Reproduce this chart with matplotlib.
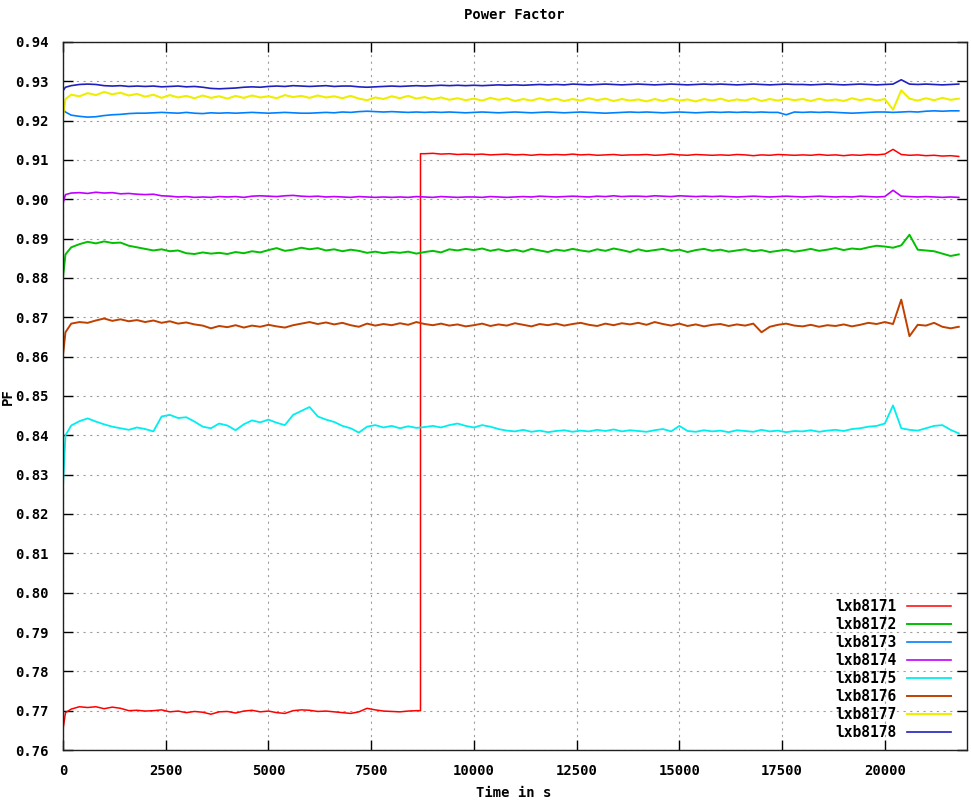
import numpy as np
import matplotlib
matplotlib.use("Agg")
import matplotlib.pyplot as plt

# sample times in seconds: 0, 60, then every 200 s up to 21800
t = np.concatenate(([0, 60], np.arange(200, 21801, 200)))
step_t = 8700   # lxb8171 jumps here

pf_8171 = [0.7652, 0.7695, 0.7704, 0.7710, 0.7708, 0.7710, 0.7705, 0.7709, 0.7706, 0.7700, 0.7701,
           0.7699, 0.7700, 0.7702, 0.7697, 0.7699, 0.7695, 0.7698, 0.7696, 0.7691, 0.7697,
           0.7698, 0.7694, 0.7699, 0.7701, 0.7697, 0.7699, 0.7695, 0.7693, 0.7700, 0.7702,
           0.7701, 0.7698, 0.7699, 0.7697, 0.7695, 0.7693, 0.7697, 0.7706, 0.7702, 0.7699,
           0.7698, 0.7697, 0.7699, 0.7700, 0.9116, 0.9117, 0.9115, 0.9116, 0.9114, 0.9115,
           0.9114, 0.9115, 0.9113, 0.9114, 0.9115, 0.9113, 0.9114, 0.9112, 0.9114, 0.9113,
           0.9114, 0.9113, 0.9115, 0.9113, 0.9114, 0.9112, 0.9113, 0.9114, 0.9112, 0.9113,
           0.9113, 0.9114, 0.9112, 0.9113, 0.9115, 0.9113, 0.9112, 0.9114, 0.9113, 0.9112,
           0.9113, 0.9112, 0.9114, 0.9113, 0.9111, 0.9113, 0.9112, 0.9114, 0.9113, 0.9112,
           0.9113, 0.9112, 0.9114, 0.9112, 0.9113, 0.9111, 0.9113, 0.9112, 0.9114, 0.9113,
           0.9115, 0.9127, 0.9114, 0.9112, 0.9113, 0.9111, 0.9112, 0.9110, 0.9111, 0.9109]

pf_8172 = [0.8802, 0.8860, 0.8878, 0.8886, 0.8892, 0.8888, 0.8893, 0.8889, 0.8890, 0.8882, 0.8878,
           0.8874, 0.8870, 0.8873, 0.8868, 0.8870, 0.8863, 0.8861, 0.8865, 0.8862, 0.8864,
           0.8861, 0.8866, 0.8863, 0.8868, 0.8865, 0.8871, 0.8876, 0.8869, 0.8872, 0.8877,
           0.8873, 0.8876, 0.8870, 0.8873, 0.8868, 0.8872, 0.8869, 0.8864, 0.8867, 0.8863,
           0.8866, 0.8864, 0.8867, 0.8862, 0.8866, 0.8869, 0.8865, 0.8873, 0.8870, 0.8874,
           0.8871, 0.8875, 0.8869, 0.8873, 0.8868, 0.8872, 0.8867, 0.8874, 0.8870, 0.8866,
           0.8872, 0.8869, 0.8874, 0.8870, 0.8867, 0.8873, 0.8869, 0.8875, 0.8871, 0.8866,
           0.8873, 0.8868, 0.8871, 0.8874, 0.8869, 0.8872, 0.8866, 0.8871, 0.8874, 0.8869,
           0.8872, 0.8867, 0.8870, 0.8873, 0.8868, 0.8871, 0.8866, 0.8869, 0.8872, 0.8867,
           0.8870, 0.8874, 0.8869, 0.8872, 0.8876, 0.8871, 0.8875, 0.8873, 0.8878, 0.8882,
           0.8880, 0.8877, 0.8883, 0.8910, 0.8872, 0.8870, 0.8868, 0.8862, 0.8856, 0.8860]

pf_8173 = [0.9228, 0.9222, 0.9214, 0.9211, 0.9209, 0.9210, 0.9213, 0.9215, 0.9216, 0.9218, 0.9219,
           0.9219, 0.9220, 0.9221, 0.9220, 0.9219, 0.9221, 0.9219, 0.9218, 0.9220, 0.9219,
           0.9220, 0.9219, 0.9220, 0.9221, 0.9220, 0.9219, 0.9220, 0.9221, 0.9220, 0.9219,
           0.9219, 0.9220, 0.9221, 0.9220, 0.9222, 0.9221, 0.9223, 0.9224, 0.9223, 0.9222,
           0.9223, 0.9222, 0.9221, 0.9222, 0.9221, 0.9222, 0.9221, 0.9222, 0.9221, 0.9220,
           0.9221, 0.9222, 0.9221, 0.9220, 0.9221, 0.9222, 0.9221, 0.9220, 0.9221, 0.9222,
           0.9221, 0.9220, 0.9221, 0.9222, 0.9221, 0.9220, 0.9219, 0.9220, 0.9221, 0.9222,
           0.9221, 0.9222, 0.9221, 0.9220, 0.9221, 0.9222, 0.9221, 0.9220, 0.9221, 0.9222,
           0.9221, 0.9222, 0.9221, 0.9222, 0.9221, 0.9222, 0.9221, 0.9221, 0.9215, 0.9222,
           0.9221, 0.9222, 0.9221, 0.9222, 0.9221, 0.9220, 0.9219, 0.9220, 0.9221, 0.9222,
           0.9222, 0.9221, 0.9222, 0.9223, 0.9222, 0.9224, 0.9225, 0.9224, 0.9225, 0.9225]

pf_8174 = [0.8990, 0.9012, 0.9016, 0.9017, 0.9015, 0.9018, 0.9016, 0.9017, 0.9014, 0.9015, 0.9013,
           0.9012, 0.9013, 0.9009, 0.9008, 0.9006, 0.9007, 0.9005, 0.9006, 0.9005, 0.9007,
           0.9006, 0.9007, 0.9005, 0.9008, 0.9009, 0.9008, 0.9007, 0.9009, 0.9010, 0.9008,
           0.9007, 0.9008, 0.9006, 0.9007, 0.9006, 0.9005, 0.9007, 0.9006, 0.9005, 0.9006,
           0.9005, 0.9006, 0.9005, 0.9007, 0.9006, 0.9005, 0.9007, 0.9006, 0.9005, 0.9006,
           0.9006, 0.9005, 0.9007, 0.9006, 0.9005, 0.9006, 0.9007, 0.9006, 0.9008, 0.9007,
           0.9006, 0.9007, 0.9008, 0.9007, 0.9006, 0.9008, 0.9007, 0.9009, 0.9007, 0.9008,
           0.9008, 0.9007, 0.9009, 0.9008, 0.9007, 0.9009, 0.9008, 0.9007, 0.9008, 0.9007,
           0.9008, 0.9007, 0.9006, 0.9007, 0.9008, 0.9007, 0.9006, 0.9007, 0.9008, 0.9007,
           0.9006, 0.9007, 0.9008, 0.9007, 0.9006, 0.9007, 0.9006, 0.9008, 0.9007, 0.9006,
           0.9007, 0.9023, 0.9008, 0.9007, 0.9006, 0.9007, 0.9006, 0.9005, 0.9006, 0.9005]

pf_8175 = [0.8270, 0.8400, 0.8425, 0.8436, 0.8443, 0.8435, 0.8428, 0.8422, 0.8418, 0.8414, 0.8420,
           0.8416, 0.8410, 0.8448, 0.8452, 0.8444, 0.8446, 0.8435, 0.8422, 0.8418, 0.8430,
           0.8425, 0.8413, 0.8428, 0.8438, 0.8433, 0.8440, 0.8432, 0.8426, 0.8452, 0.8462,
           0.8472, 0.8448, 0.8440, 0.8434, 0.8424, 0.8418, 0.8407, 0.8422, 0.8426, 0.8420,
           0.8424, 0.8418, 0.8423, 0.8419, 0.8421, 0.8424, 0.8420, 0.8426, 0.8430, 0.8424,
           0.8420, 0.8426, 0.8422, 0.8416, 0.8412, 0.8410, 0.8414, 0.8409, 0.8412, 0.8408,
           0.8411, 0.8413, 0.8409, 0.8412, 0.8410, 0.8414, 0.8411, 0.8415, 0.8410, 0.8413,
           0.8411, 0.8409, 0.8413, 0.8416, 0.8410, 0.8424, 0.8411, 0.8409, 0.8413, 0.8410,
           0.8412, 0.8408, 0.8413, 0.8411, 0.8409, 0.8414, 0.8410, 0.8412, 0.8408, 0.8411,
           0.8410, 0.8413, 0.8409, 0.8412, 0.8414, 0.8411, 0.8416, 0.8418, 0.8422, 0.8424,
           0.8430, 0.8476, 0.8418, 0.8414, 0.8412, 0.8418, 0.8424, 0.8426, 0.8414, 0.8405]

pf_8176 = [0.8604, 0.8662, 0.8684, 0.8688, 0.8686, 0.8692, 0.8697, 0.8691, 0.8695, 0.8690, 0.8693,
           0.8688, 0.8692, 0.8686, 0.8690, 0.8684, 0.8687, 0.8682, 0.8679, 0.8672, 0.8678,
           0.8675, 0.8680, 0.8674, 0.8679, 0.8676, 0.8681, 0.8677, 0.8674, 0.8680, 0.8684,
           0.8688, 0.8683, 0.8687, 0.8682, 0.8686, 0.8680, 0.8676, 0.8684, 0.8679, 0.8683,
           0.8680, 0.8685, 0.8681, 0.8688, 0.8683, 0.8680, 0.8684, 0.8679, 0.8682, 0.8677,
           0.8680, 0.8684, 0.8678, 0.8682, 0.8679, 0.8685, 0.8681, 0.8677, 0.8683, 0.8680,
           0.8684, 0.8679, 0.8683, 0.8686, 0.8681, 0.8678, 0.8684, 0.8680, 0.8685, 0.8682,
           0.8686, 0.8681, 0.8688, 0.8683, 0.8679, 0.8684, 0.8678, 0.8682, 0.8677, 0.8681,
           0.8683, 0.8678, 0.8682, 0.8679, 0.8684, 0.8662, 0.8676, 0.8681, 0.8684, 0.8679,
           0.8677, 0.8681, 0.8676, 0.8680, 0.8678, 0.8682, 0.8677, 0.8681, 0.8686, 0.8683,
           0.8688, 0.8683, 0.8745, 0.8652, 0.8681, 0.8679, 0.8686, 0.8676, 0.8672, 0.8676]

pf_8177 = [0.9210, 0.9255, 0.9266, 0.9262, 0.9270, 0.9265, 0.9273, 0.9267, 0.9271, 0.9264, 0.9268,
           0.9261, 0.9266, 0.9258, 0.9265, 0.9259, 0.9263, 0.9257, 0.9264, 0.9258, 0.9262,
           0.9256, 0.9263, 0.9258, 0.9264, 0.9259, 0.9262, 0.9257, 0.9265, 0.9260, 0.9263,
           0.9258, 0.9264, 0.9259, 0.9262, 0.9257, 0.9263, 0.9256, 0.9252, 0.9259, 0.9255,
           0.9262, 0.9257, 0.9263, 0.9256, 0.9260, 0.9254, 0.9259, 0.9253, 0.9257, 0.9252,
           0.9256, 0.9251, 0.9258, 0.9253, 0.9257, 0.9250, 0.9255, 0.9251, 0.9257, 0.9252,
           0.9256, 0.9250, 0.9255, 0.9251, 0.9257, 0.9252, 0.9256, 0.9250, 0.9255, 0.9251,
           0.9254, 0.9249, 0.9255, 0.9250, 0.9256, 0.9251, 0.9254, 0.9249, 0.9255, 0.9251,
           0.9256, 0.9250, 0.9254, 0.9251, 0.9257, 0.9250, 0.9255, 0.9251, 0.9256, 0.9252,
           0.9255, 0.9250, 0.9256, 0.9251, 0.9254, 0.9250, 0.9257, 0.9252, 0.9256, 0.9251,
           0.9255, 0.9228, 0.9277, 0.9256, 0.9251, 0.9257, 0.9252, 0.9258, 0.9253, 0.9256]

pf_8178 = [0.9276, 0.9285, 0.9289, 0.9292, 0.9293, 0.9292, 0.9289, 0.9288, 0.9289, 0.9287, 0.9288,
           0.9287, 0.9288, 0.9286, 0.9287, 0.9288, 0.9286, 0.9287, 0.9285, 0.9282, 0.9281,
           0.9282, 0.9283, 0.9285, 0.9286, 0.9285, 0.9287, 0.9288, 0.9287, 0.9289, 0.9288,
           0.9287, 0.9288, 0.9289, 0.9287, 0.9288, 0.9288, 0.9286, 0.9285, 0.9286, 0.9287,
           0.9288, 0.9287, 0.9288, 0.9289, 0.9288, 0.9289, 0.9290, 0.9289, 0.9290, 0.9289,
           0.9290, 0.9289, 0.9290, 0.9291, 0.9290, 0.9291, 0.9290, 0.9291, 0.9292, 0.9291,
           0.9292, 0.9291, 0.9293, 0.9292, 0.9291, 0.9292, 0.9293, 0.9292, 0.9291, 0.9292,
           0.9293, 0.9292, 0.9291, 0.9292, 0.9293, 0.9292, 0.9291, 0.9292, 0.9293, 0.9292,
           0.9293, 0.9292, 0.9291, 0.9292, 0.9293, 0.9292, 0.9291, 0.9292, 0.9293, 0.9292,
           0.9292, 0.9291, 0.9292, 0.9293, 0.9292, 0.9291, 0.9292, 0.9293, 0.9292, 0.9291,
           0.9292, 0.9293, 0.9304, 0.9293, 0.9292, 0.9293, 0.9292, 0.9291, 0.9292, 0.9293]

names = ['lxb8171', 'lxb8172', 'lxb8173', 'lxb8174',
         'lxb8175', 'lxb8176', 'lxb8177', 'lxb8178']
series = [pf_8171, pf_8172, pf_8173, pf_8174, pf_8175, pf_8176, pf_8177, pf_8178]
colors = ['#ff0000', '#00c000', '#0080ff', '#c000ff',
          '#00eeee', '#c04000', '#eeee00', '#2020c0']
widths = [1.1, 1.4, 1.2, 1.2, 1.3, 1.4, 1.5, 1.2]

font = {'family': 'DejaVu Sans Mono', 'weight': 'bold', 'size': 10}

fig = plt.figure(figsize=(9.71, 8.01), dpi=100)
ax = fig.add_axes([63/971, 1 - 750/801, (967 - 63)/971, (750 - 42)/801])

for name, vals, c, w in zip(names, series, colors, widths):
    x = np.asarray(t, dtype=float)
    y = np.asarray(vals)
    if name == 'lxb8171':
        # vertical jump between the two levels
        k = np.searchsorted(x, step_t)
        x = np.concatenate((x[:k], [step_t, step_t], x[k:]))
        y = np.concatenate((y[:k], [y[k - 1], y[k]], y[k:]))
    ax.plot(x, y, color=c, lw=w, label=name)

ax.set_xlim(0, 22000)
ax.set_ylim(0.76, 0.94)
ax.set_xticks(np.arange(0, 20001, 2500))
ax.set_yticks(np.arange(0.76, 0.9401, 0.01))
ax.set_xticklabels([str(v) for v in range(0, 20001, 2500)], fontdict=font)
ax.set_yticklabels(['%.2f' % v for v in np.arange(0.76, 0.9401, 0.01)], fontdict=font)
ax.tick_params(direction='in', length=7, width=1, top=True, right=True)
ax.tick_params(axis='y', pad=10)
ax.tick_params(axis='x', pad=10)
ax.grid(True, color='#a0a0a0', lw=0.8, linestyle=(0, (2, 4)))
for s in ax.spines.values():
    s.set_linewidth(1.0)
    s.set_color('#202020')

fig.text(514/971, 1 - 15/801, 'Power Factor', ha='center', va='center', fontdict=font)
fig.text(514/971, 1 - 786/801, 'Time in s', ha='center', va='top', fontdict=font)
fig.text(8/971, 1 - 397/801, 'PF', ha='center', va='center', rotation=90, fontdict=font)

leg = ax.legend(loc='lower right', bbox_to_anchor=(0.9935, 0.0), frameon=False,
                markerfirst=False, handlelength=3.0, labelspacing=0.2,
                borderaxespad=0.3, handletextpad=0.7,
                prop={'family': 'DejaVu Sans Mono', 'weight': 'bold', 'size': 10.5})

fig.savefig('out.png', dpi=100)
